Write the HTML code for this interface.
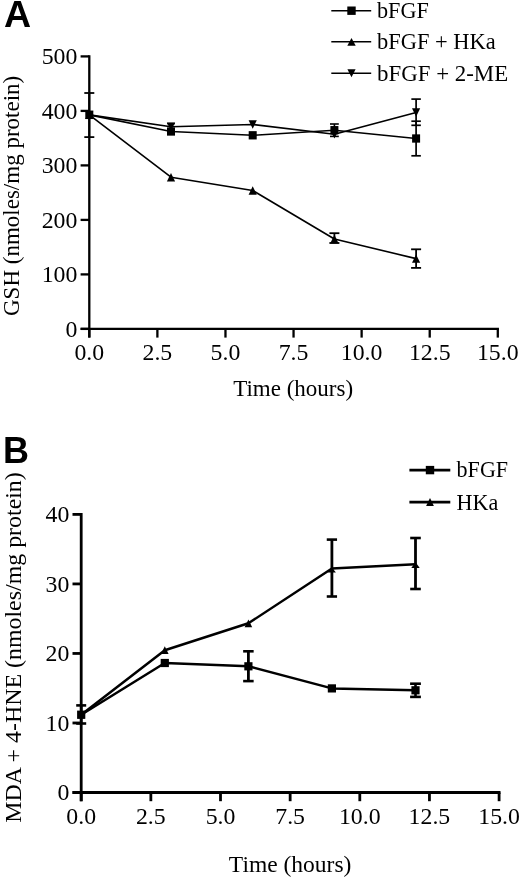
<!DOCTYPE html>
<html><head><meta charset="utf-8"><style>
html,body{margin:0;padding:0;background:#fff;}
svg{display:block;will-change:transform;}
text{font-family:"Liberation Serif", serif;fill:#000;}
text.lbl{font-family:"Liberation Sans", sans-serif;font-weight:bold;}
</style></head><body>
<svg width="520" height="879" viewBox="0 0 520 879">
<rect width="520" height="879" fill="#fff"/>
<text transform="translate(4.00,27.30)" class="lbl" font-size="37.5">A</text>
<line x1="89.30" y1="55.25" x2="89.30" y2="337.60" stroke="#000" stroke-width="2.3"/>
<line x1="80.60" y1="328.90" x2="498.95" y2="328.90" stroke="#000" stroke-width="2.3"/>
<line x1="80.60" y1="328.90" x2="89.30" y2="328.90" stroke="#000" stroke-width="2.3"/>
<text transform="translate(77.40,336.70)" text-anchor="end" font-size="23.8">0</text>
<line x1="80.60" y1="274.40" x2="89.30" y2="274.40" stroke="#000" stroke-width="2.3"/>
<text transform="translate(77.40,282.20)" text-anchor="end" font-size="23.8">100</text>
<line x1="80.60" y1="219.90" x2="89.30" y2="219.90" stroke="#000" stroke-width="2.3"/>
<text transform="translate(77.40,227.70)" text-anchor="end" font-size="23.8">200</text>
<line x1="80.60" y1="165.40" x2="89.30" y2="165.40" stroke="#000" stroke-width="2.3"/>
<text transform="translate(77.40,173.20)" text-anchor="end" font-size="23.8">300</text>
<line x1="80.60" y1="110.90" x2="89.30" y2="110.90" stroke="#000" stroke-width="2.3"/>
<text transform="translate(77.40,118.70)" text-anchor="end" font-size="23.8">400</text>
<line x1="80.60" y1="56.40" x2="89.30" y2="56.40" stroke="#000" stroke-width="2.3"/>
<text transform="translate(77.40,64.20)" text-anchor="end" font-size="23.8">500</text>
<line x1="89.30" y1="328.90" x2="89.30" y2="337.60" stroke="#000" stroke-width="2.3"/>
<text transform="translate(89.30,360.00)" text-anchor="middle" font-size="23.8">0.0</text>
<line x1="157.38" y1="328.90" x2="157.38" y2="337.60" stroke="#000" stroke-width="2.3"/>
<text transform="translate(157.38,360.00)" text-anchor="middle" font-size="23.8">2.5</text>
<line x1="225.47" y1="328.90" x2="225.47" y2="337.60" stroke="#000" stroke-width="2.3"/>
<text transform="translate(225.47,360.00)" text-anchor="middle" font-size="23.8">5.0</text>
<line x1="293.55" y1="328.90" x2="293.55" y2="337.60" stroke="#000" stroke-width="2.3"/>
<text transform="translate(293.55,360.00)" text-anchor="middle" font-size="23.8">7.5</text>
<line x1="361.63" y1="328.90" x2="361.63" y2="337.60" stroke="#000" stroke-width="2.3"/>
<text transform="translate(361.63,360.00)" text-anchor="middle" font-size="23.8">10.0</text>
<line x1="429.72" y1="328.90" x2="429.72" y2="337.60" stroke="#000" stroke-width="2.3"/>
<text transform="translate(429.72,360.00)" text-anchor="middle" font-size="23.8">12.5</text>
<line x1="497.80" y1="328.90" x2="497.80" y2="337.60" stroke="#000" stroke-width="2.3"/>
<text transform="translate(497.80,360.00)" text-anchor="middle" font-size="23.8">15.0</text>
<line x1="89.30" y1="93.00" x2="89.30" y2="137.10" stroke="#000" stroke-width="1.8"/>
<line x1="84.30" y1="93.00" x2="94.30" y2="93.00" stroke="#000" stroke-width="1.8"/>
<line x1="84.30" y1="137.10" x2="94.30" y2="137.10" stroke="#000" stroke-width="1.8"/>
<line x1="171.00" y1="123.60" x2="171.00" y2="130.00" stroke="#000" stroke-width="1.6"/>
<line x1="167.10" y1="123.60" x2="174.90" y2="123.60" stroke="#000" stroke-width="1.6"/>
<line x1="167.10" y1="130.00" x2="174.90" y2="130.00" stroke="#000" stroke-width="1.6"/>
<line x1="334.40" y1="124.00" x2="334.40" y2="136.40" stroke="#000" stroke-width="1.6"/>
<line x1="330.00" y1="124.00" x2="338.80" y2="124.00" stroke="#000" stroke-width="1.6"/>
<line x1="330.00" y1="136.40" x2="338.80" y2="136.40" stroke="#000" stroke-width="1.6"/>
<line x1="334.40" y1="233.20" x2="334.40" y2="243.00" stroke="#000" stroke-width="1.8"/>
<line x1="329.40" y1="233.20" x2="339.40" y2="233.20" stroke="#000" stroke-width="1.8"/>
<line x1="329.40" y1="243.00" x2="339.40" y2="243.00" stroke="#000" stroke-width="1.8"/>
<line x1="416.10" y1="99.10" x2="416.10" y2="125.30" stroke="#000" stroke-width="1.7"/>
<line x1="411.35" y1="99.10" x2="420.85" y2="99.10" stroke="#000" stroke-width="1.7"/>
<line x1="411.35" y1="125.30" x2="420.85" y2="125.30" stroke="#000" stroke-width="1.7"/>
<line x1="416.10" y1="121.20" x2="416.10" y2="155.80" stroke="#000" stroke-width="1.7"/>
<line x1="411.35" y1="121.20" x2="420.85" y2="121.20" stroke="#000" stroke-width="1.7"/>
<line x1="411.35" y1="155.80" x2="420.85" y2="155.80" stroke="#000" stroke-width="1.7"/>
<line x1="416.10" y1="249.30" x2="416.10" y2="267.90" stroke="#000" stroke-width="1.8"/>
<line x1="411.10" y1="249.30" x2="421.10" y2="249.30" stroke="#000" stroke-width="1.8"/>
<line x1="411.10" y1="267.90" x2="421.10" y2="267.90" stroke="#000" stroke-width="1.8"/>
<polyline points="89.30,114.90 171.00,131.50 252.70,135.30 334.40,130.20 416.10,138.50" fill="none" stroke="#000" stroke-width="1.6" stroke-linejoin="round"/>
<polyline points="89.30,114.90 171.00,177.20 252.70,190.50 334.40,239.00 416.10,258.60" fill="none" stroke="#000" stroke-width="1.6" stroke-linejoin="round"/>
<polyline points="89.30,114.90 171.00,126.80 252.70,124.50 334.40,134.30 416.10,112.50" fill="none" stroke="#000" stroke-width="1.6" stroke-linejoin="round"/>
<rect x="85.30" y="110.75" width="8" height="8.3" fill="#000"/>
<rect x="167.00" y="127.35" width="8" height="8.3" fill="#000"/>
<rect x="248.70" y="131.15" width="8" height="8.3" fill="#000"/>
<rect x="330.40" y="126.05" width="8" height="8.3" fill="#000"/>
<rect x="412.10" y="134.35" width="8" height="8.3" fill="#000"/>
<path d="M85.20,119.10 L93.40,119.10 L89.30,110.70 Z" fill="#000"/>
<path d="M166.90,181.40 L175.10,181.40 L171.00,173.00 Z" fill="#000"/>
<path d="M248.60,194.70 L256.80,194.70 L252.70,186.30 Z" fill="#000"/>
<path d="M330.30,243.20 L338.50,243.20 L334.40,234.80 Z" fill="#000"/>
<path d="M412.00,262.80 L420.20,262.80 L416.10,254.40 Z" fill="#000"/>
<path d="M85.20,110.70 L93.40,110.70 L89.30,119.10 Z" fill="#000"/>
<path d="M166.90,122.60 L175.10,122.60 L171.00,131.00 Z" fill="#000"/>
<path d="M248.60,120.30 L256.80,120.30 L252.70,128.70 Z" fill="#000"/>
<path d="M330.30,130.10 L338.50,130.10 L334.40,138.50 Z" fill="#000"/>
<path d="M412.00,108.30 L420.20,108.30 L416.10,116.70 Z" fill="#000"/>
<line x1="331.3" y1="10.7" x2="371.2" y2="10.7" stroke="#000" stroke-width="1.5"/>
<rect x="347.30" y="6.50" width="8.4" height="8.4" fill="#000"/>
<text transform="translate(377.00,18.30) scale(0.9870,1)" font-size="22.5">bFGF</text>
<line x1="331.3" y1="41.8" x2="371.2" y2="41.8" stroke="#000" stroke-width="1.5"/>
<path d="M347.30,45.70 L355.70,45.70 L351.50,37.90 Z" fill="#000"/>
<text transform="translate(377.00,49.00) scale(0.9980,1)" font-size="22.5">bFGF + HKa</text>
<line x1="331.3" y1="73.3" x2="371.2" y2="73.3" stroke="#000" stroke-width="1.5"/>
<path d="M347.40,69.30 L355.60,69.30 L351.50,77.30 Z" fill="#000"/>
<text transform="translate(377.00,80.80) scale(1.0170,1)" font-size="22.5">bFGF + 2-ME</text>
<text transform="translate(293.10,395.60)" text-anchor="middle" font-size="23">Time (hours)</text>
<text transform="translate(18.60,195.90) rotate(-90)" text-anchor="middle" font-size="23">GSH (nmoles/mg protein)</text>
<text transform="translate(3.00,462.90)" class="lbl" font-size="36">B</text>
<line x1="81.20" y1="513.00" x2="81.20" y2="801.20" stroke="#000" stroke-width="2.8"/>
<line x1="72.50" y1="792.50" x2="500.50" y2="792.50" stroke="#000" stroke-width="2.8"/>
<line x1="72.50" y1="792.50" x2="81.20" y2="792.50" stroke="#000" stroke-width="2.8"/>
<text transform="translate(69.40,800.30)" text-anchor="end" font-size="23.8">0</text>
<line x1="72.50" y1="722.98" x2="81.20" y2="722.98" stroke="#000" stroke-width="2.8"/>
<text transform="translate(69.40,730.77)" text-anchor="end" font-size="23.8">10</text>
<line x1="72.50" y1="653.45" x2="81.20" y2="653.45" stroke="#000" stroke-width="2.8"/>
<text transform="translate(69.40,661.25)" text-anchor="end" font-size="23.8">20</text>
<line x1="72.50" y1="583.92" x2="81.20" y2="583.92" stroke="#000" stroke-width="2.8"/>
<text transform="translate(69.40,591.72)" text-anchor="end" font-size="23.8">30</text>
<line x1="72.50" y1="514.40" x2="81.20" y2="514.40" stroke="#000" stroke-width="2.8"/>
<text transform="translate(69.40,522.20)" text-anchor="end" font-size="23.8">40</text>
<line x1="81.20" y1="792.50" x2="81.20" y2="801.20" stroke="#000" stroke-width="2.8"/>
<text transform="translate(81.20,824.40)" text-anchor="middle" font-size="23.8">0.0</text>
<line x1="150.85" y1="792.50" x2="150.85" y2="801.20" stroke="#000" stroke-width="2.8"/>
<text transform="translate(150.85,824.40)" text-anchor="middle" font-size="23.8">2.5</text>
<line x1="220.50" y1="792.50" x2="220.50" y2="801.20" stroke="#000" stroke-width="2.8"/>
<text transform="translate(220.50,824.40)" text-anchor="middle" font-size="23.8">5.0</text>
<line x1="290.15" y1="792.50" x2="290.15" y2="801.20" stroke="#000" stroke-width="2.8"/>
<text transform="translate(290.15,824.40)" text-anchor="middle" font-size="23.8">7.5</text>
<line x1="359.80" y1="792.50" x2="359.80" y2="801.20" stroke="#000" stroke-width="2.8"/>
<text transform="translate(359.80,824.40)" text-anchor="middle" font-size="23.8">10.0</text>
<line x1="429.45" y1="792.50" x2="429.45" y2="801.20" stroke="#000" stroke-width="2.8"/>
<text transform="translate(429.45,824.40)" text-anchor="middle" font-size="23.8">12.5</text>
<line x1="499.10" y1="792.50" x2="499.10" y2="801.20" stroke="#000" stroke-width="2.8"/>
<text transform="translate(499.10,824.40)" text-anchor="middle" font-size="23.8">15.0</text>
<line x1="81.20" y1="705.40" x2="81.20" y2="723.50" stroke="#000" stroke-width="2.6"/>
<line x1="76.20" y1="705.40" x2="86.20" y2="705.40" stroke="#000" stroke-width="2.6"/>
<line x1="76.20" y1="723.50" x2="86.20" y2="723.50" stroke="#000" stroke-width="2.6"/>
<line x1="248.40" y1="651.30" x2="248.40" y2="681.10" stroke="#000" stroke-width="2.8"/>
<line x1="243.15" y1="651.30" x2="253.65" y2="651.30" stroke="#000" stroke-width="2.6"/>
<line x1="243.15" y1="681.10" x2="253.65" y2="681.10" stroke="#000" stroke-width="2.6"/>
<line x1="331.90" y1="539.60" x2="331.90" y2="596.50" stroke="#000" stroke-width="2.8"/>
<line x1="326.75" y1="539.60" x2="337.05" y2="539.60" stroke="#000" stroke-width="2.6"/>
<line x1="326.75" y1="596.50" x2="337.05" y2="596.50" stroke="#000" stroke-width="2.6"/>
<line x1="415.50" y1="538.00" x2="415.50" y2="589.00" stroke="#000" stroke-width="2.8"/>
<line x1="410.20" y1="538.00" x2="420.80" y2="538.00" stroke="#000" stroke-width="2.6"/>
<line x1="410.20" y1="589.00" x2="420.80" y2="589.00" stroke="#000" stroke-width="2.6"/>
<line x1="415.50" y1="683.70" x2="415.50" y2="696.90" stroke="#000" stroke-width="2.6"/>
<line x1="410.10" y1="683.70" x2="420.90" y2="683.70" stroke="#000" stroke-width="2.6"/>
<line x1="410.10" y1="696.90" x2="420.90" y2="696.90" stroke="#000" stroke-width="2.6"/>
<polyline points="81.20,714.70 164.80,663.00 248.40,666.30 331.90,688.40 415.50,690.30" fill="none" stroke="#000" stroke-width="2.5" stroke-linejoin="round"/>
<polyline points="81.20,714.70 164.80,650.20 248.40,623.30 331.90,568.50 415.50,564.20" fill="none" stroke="#000" stroke-width="2.5" stroke-linejoin="round"/>
<rect x="77.10" y="710.60" width="8.2" height="8.2" fill="#000"/>
<rect x="160.70" y="658.90" width="8.2" height="8.2" fill="#000"/>
<rect x="244.30" y="662.20" width="8.2" height="8.2" fill="#000"/>
<rect x="327.80" y="684.30" width="8.2" height="8.2" fill="#000"/>
<rect x="411.40" y="686.20" width="8.2" height="8.2" fill="#000"/>
<path d="M77.40,718.60 L85.00,718.60 L81.20,710.80 Z" fill="#000"/>
<path d="M161.00,654.10 L168.60,654.10 L164.80,646.30 Z" fill="#000"/>
<path d="M244.60,627.20 L252.20,627.20 L248.40,619.40 Z" fill="#000"/>
<path d="M327.90,572.50 L335.90,572.50 L331.90,567.50 Z" fill="#000"/>
<path d="M411.30,568.00 L419.70,568.00 L415.50,562.00 Z" fill="#000"/>
<line x1="409.4" y1="470.1" x2="450.3" y2="470.1" stroke="#000" stroke-width="2.6"/>
<rect x="425.80" y="465.90" width="8.4" height="8.4" fill="#000"/>
<text transform="translate(456.60,477.40) scale(0.9800,1)" font-size="22.5">bFGF</text>
<line x1="409.4" y1="502.1" x2="450.3" y2="502.1" stroke="#000" stroke-width="2.6"/>
<path d="M426.10,506.10 L433.90,506.10 L430.00,498.10 Z" fill="#000"/>
<text transform="translate(456.60,509.60) scale(0.9830,1)" font-size="22.5">HKa</text>
<text transform="translate(290.10,871.60)" text-anchor="middle" font-size="23.5">Time (hours)</text>
<text transform="translate(21.40,647.50) rotate(-90)" text-anchor="middle" font-size="23.9">MDA + 4-HNE (nmoles/mg protein)</text>
</svg>
</body></html>
